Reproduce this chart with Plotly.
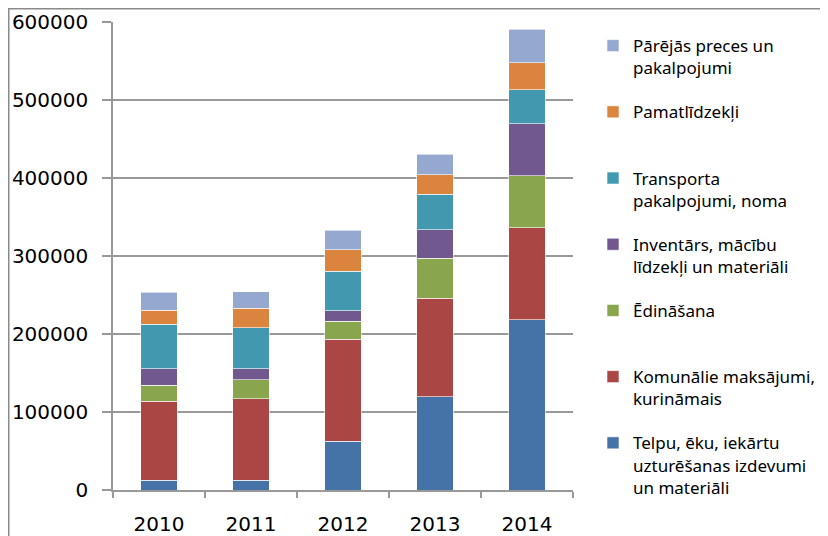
import plotly.graph_objects as go

years = ["2010", "2011", "2012", "2013", "2014"]

series_names = [
    "Telpu, ēku, iekārtu<br>uzturēšanas izdevumi<br>un materiāli",
    "Komunālie maksājumi,<br>kurināmais",
    "Ēdināšana<br> ",
    "Inventārs, mācību<br>līdzekļi un materiāli",
    "Transporta<br>pakalpojumi, noma",
    "Pamatlīdzekļi<br> ",
    "Pārējās preces un<br>pakalpojumi",
]

telpu = [12700, 12700, 62300, 119700, 218400]
komunalie = [100900, 104000, 131100, 126300, 118000]
edinasana = [21000, 24600, 22800, 50900, 66200]
inventars = [20600, 14000, 13600, 36800, 66700]
transports = [57000, 52600, 50900, 45600, 43900]
pamatlidzekli = [18400, 25400, 27200, 25000, 34600]
parejas = [23200, 20600, 25400, 25900, 43000]

series_values = [telpu, komunalie, edinasana, inventars, transports, pamatlidzekli, parejas]
colors = ["#4572A7", "#AA4643", "#89A54E", "#71588F", "#4198AF", "#DB843D", "#95A9D0"]

y_ticks = [0, 100000, 200000, 300000, 400000, 500000, 600000]

fig = go.Figure()
n = len(series_names)
for i, (name, vals, col) in enumerate(zip(series_names, series_values, colors)):
    fig.add_trace(go.Bar(
        x=years, y=vals, name=name, legendgroup=f"g{i}", legendrank=(n - i) * 10,
        marker=dict(color=col, line=dict(color="rgba(255,255,255,0.6)", width=1)),
    ))

# page has an 8px body margin, so the figure is drawn 8px smaller
W, H = 820, 528
L, R, T, B = 105, 255, 14, 46
pw, ph = W - L - R, H - T - B

font = "DejaVu Sans"
fig.update_layout(
    barmode="stack",
    bargap=0.6,
    width=W, height=H,
    margin=dict(l=L, r=R, t=T, b=B, autoexpand=False),
    plot_bgcolor="white", paper_bgcolor="white",
    font=dict(family=font, color="black"),
    showlegend=True,
    legend=dict(
        x=1.0435, xanchor="left", y=0.987, yanchor="top",
        traceorder="grouped", tracegroupgap=19,
        valign="top",
        font=dict(family="Noto Sans", size=17, color="black"),
        itemwidth=30, maxheight=600,
        bgcolor="rgba(0,0,0,0)",
    ),
    xaxis=dict(
        showline=True, linecolor="#999999", linewidth=1.5,
        ticks="outside", tickson="boundaries", ticklen=6, tickcolor="#999999", tickwidth=1.5,
        tickfont=dict(size=20, family=font),
        ticklabelstandoff=15,
        showgrid=False,
    ),
    yaxis=dict(
        range=[0, 600000], tickvals=y_ticks, ticktext=[str(v) for v in y_ticks],
        showline=True, linecolor="#999999", linewidth=1.5,
        ticks="outside", ticklen=9, tickcolor="#999999", tickwidth=1.5,
        showgrid=True, gridcolor="#999999", gridwidth=1.5,
        tickfont=dict(size=20, family=font),
        ticklabelstandoff=10,
        zeroline=False,
    ),
    shapes=[dict(
        type="rect", xref="paper", yref="paper",
        x0=(0.75 - L) / pw, x1=2.0, y0=-1.0, y1=(ph + T - 0.75) / ph,
        line=dict(color="#8a8a8a", width=1.5), fillcolor="rgba(0,0,0,0)", layer="below",
    )],
)

fig.write_html("out.html")
